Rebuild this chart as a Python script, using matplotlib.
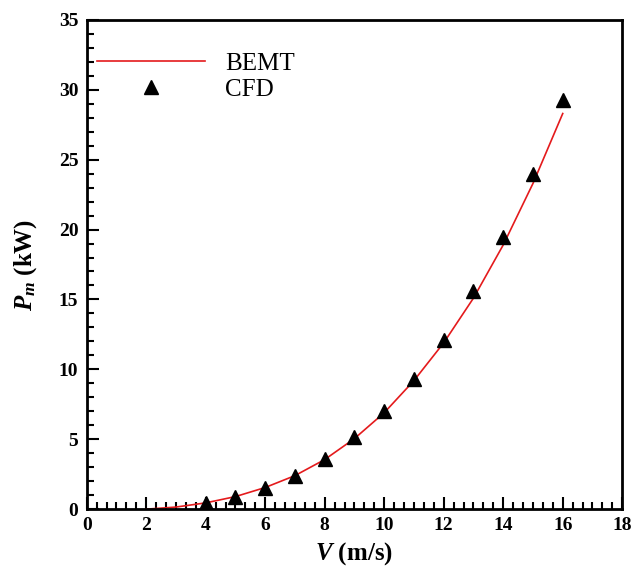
import matplotlib
matplotlib.use("Agg")
from matplotlib import pyplot as plt
from matplotlib.ticker import MultipleLocator

plt.rcParams['font.family'] = ['Liberation Serif', 'DejaVu Serif']
plt.rcParams['mathtext.fontset'] = 'custom'
plt.rcParams['mathtext.it'] = 'Liberation Serif:italic:bold'
plt.rcParams['mathtext.rm'] = 'Liberation Serif:bold'
plt.rcParams['mathtext.bf'] = 'Liberation Serif:bold'

# BEMT curve
bemt_v = [2, 3, 4, 5, 6, 7, 8, 9, 10, 11, 12, 13, 14, 15, 16]
bemt_p = [0.0, 0.15, 0.45, 0.9, 1.55, 2.4, 3.55, 5.05, 6.9, 9.2, 11.9, 15.1, 18.9, 23.3, 28.3]

# CFD points
cfd_v = [4, 5, 6, 7, 8, 9, 10, 11, 12, 13, 14, 15, 16]
cfd_p = [0.43, 0.86, 1.5, 2.4, 3.6, 5.15, 7.0, 9.3, 12.1, 15.6, 19.5, 24.0, 29.3]

fig = plt.figure(figsize=(6.33, 5.67), dpi=100)
ax = fig.add_axes([0.137, 0.102, 0.846, 0.863])

ax.plot(bemt_v, bemt_p, color='#e41a1c', lw=1.2, label='BEMT')
ax.plot(cfd_v, cfd_p, ls='none', marker='^', color='black', markersize=10, label='CFD')

ax.set_xlim(0, 18)
ax.set_ylim(0, 35)
ax.xaxis.set_major_locator(MultipleLocator(2))
ax.xaxis.set_minor_locator(MultipleLocator(1 / 3))
ax.yaxis.set_major_locator(MultipleLocator(5))
ax.yaxis.set_minor_locator(MultipleLocator(1))
ax.tick_params(which='both', direction='in', top=False, right=False, width=1.5)
ax.tick_params(which='major', length=8.5, labelsize=14)
ax.tick_params(which='minor', length=5)
ax.tick_params(axis='x', which='major', pad=6)
ax.tick_params(axis='y', which='major', pad=6)
for lab in ax.get_xticklabels() + ax.get_yticklabels():
    lab.set_fontweight('bold')
for sp in ax.spines.values():
    sp.set_linewidth(2)

ax.set_xlabel(r'$V$ (m/s)', fontsize=18, fontweight='bold', labelpad=4)
ax.set_ylabel(r'$P_m$ (kW)', fontsize=18, fontweight='bold', labelpad=14)

ax.legend(loc='upper left', frameon=False, fontsize=18, handlelength=4.3,
          handletextpad=0.8, labelspacing=0.15, borderaxespad=0.3,
          bbox_to_anchor=(-0.013, 0.97))

fig.savefig('out.png', dpi=100)
